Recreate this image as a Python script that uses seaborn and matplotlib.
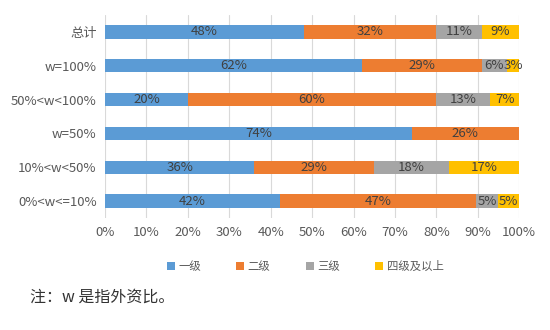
import matplotlib
matplotlib.use("Agg")
import matplotlib.pyplot as plt
import seaborn as sns
import pandas as pd
import numpy as np
from matplotlib.patches import Patch

categories = ["总计", "w=100%", "50%<w<100%", "w=50%", "10%<w<50%", "0%<w<=10%"]
series_names = ["一级", "二级", "三级", "四级及以上"]
level1 = [48, 62, 20, 74, 36, 42.2]
level2 = [32, 29, 60, 26, 29, 47.4]
level3 = [11, 6, 13, 0, 18, 5.2]
level4 = [9, 3, 7, 0, 17, 5.2]
colors = ["#5B9BD5", "#ED7D31", "#A5A5A5", "#FFC000"]
xticks = [0, 10, 20, 30, 40, 50, 60, 70, 80, 90, 100]

sns.set_theme(style="white")
plt.rcParams['font.family'] = ['Noto Sans CJK SC', 'DejaVu Sans']

values = np.array([level1, level2, level3, level4], dtype=float)
cum = np.cumsum(values, axis=0)

fig = plt.figure(figsize=(5.5, 3.3), dpi=100)
ax = fig.add_axes([0.191, 0.339, 0.753, 0.616])

# draw cumulative bars from largest to smallest so they stack visually
for i in range(3, -1, -1):
    df = pd.DataFrame({"cat": categories, "val": cum[i]})
    sns.barplot(data=df, x="val", y="cat", order=categories, color=colors[i],
                width=0.4, saturation=1, ax=ax, edgecolor="none")

for j, cat in enumerate(categories):
    for i in range(4):
        v = values[i, j]
        if v <= 0:
            continue
        left = cum[i, j] - v
        ax.text(left + v / 2, j, f"{int(round(v))}%", ha="center", va="center",
                fontsize=9.5, color="#404040")

ax.set_xlim(0, 100)
ax.set_xticks(xticks)
ax.set_xticklabels([f"{t}%" for t in xticks])
ax.set_xlabel("")
ax.set_ylabel("")
ax.grid(axis="x", color="#D9D9D9", linewidth=0.8)
ax.set_axisbelow(True)
for s in ax.spines.values():
    s.set_visible(False)
ax.tick_params(axis="both", length=0, labelsize=9.5, colors="#595959", pad=6)

handles = [Patch(facecolor=c, edgecolor="none", label=n) for c, n in zip(colors, series_names)]
fig.legend(handles=handles, loc="center", bbox_to_anchor=(0.555, 0.193), ncol=4,
           frameon=False, fontsize=8.2, handlelength=0.7, handleheight=0.7,
           handletextpad=0.3, columnspacing=3.1, labelcolor="#595959")

fig.text(0.055, 0.10, "注：w 是指外资比。", fontsize=11.5, color="#333333",
         ha="left", va="center")

fig.savefig("out.png", dpi=100)
